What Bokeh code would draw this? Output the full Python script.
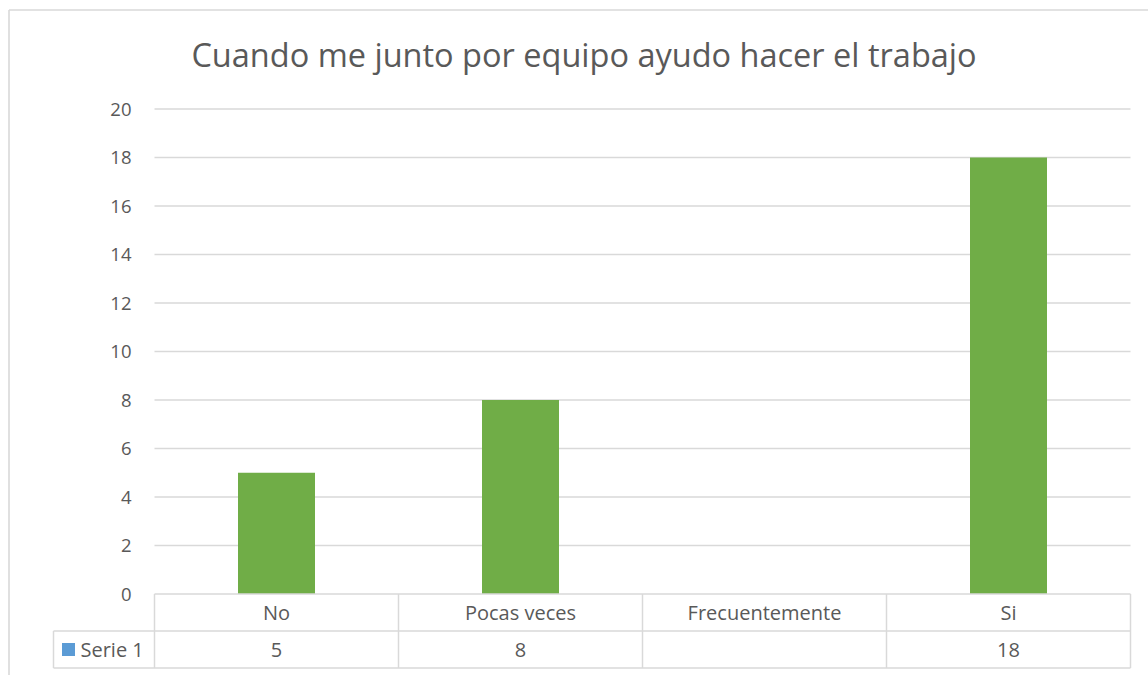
from bokeh.plotting import figure
from bokeh.models import Range1d
from bokeh.core.properties import value
from bokeh.embed import file_html
from bokeh.resources import INLINE

# ---------------- data ----------------
title_text = "Cuando me junto por equipo ayudo hacer el trabajo"
categories = ["No", "Pocas veces", "Frecuentemente", "Si"]
serie_1 = [5, 8, None, 18]
series_name = "Serie 1"
y_ticks = [0, 2, 4, 6, 8, 10, 12, 14, 16, 18, 20]

# ---------------- layout (pixels on canvas) ----------------
W, H = 1148, 675
PX_LEFT, PX_RIGHT = 154.0, 1130.0      # plot area left/right
PX_Y0, PX_YTOP = 593.5, 108.5          # canvas y of value 0 and of top tick
ROW_PX = 37.0                          # table row height
BAR_PX = 77.0
FONT = "Open Sans"
TXT = "#595959"
LINE = "#D9D9D9"

n = len(categories)
ux = (PX_RIGHT - PX_LEFT) / n
uy = (PX_Y0 - PX_YTOP) / y_ticks[-1]
x_start = -PX_LEFT / ux
x_end = (W - PX_LEFT) / ux
y_top = PX_Y0 / uy
y_bot = -(H - PX_Y0) / uy

p = figure(width=W, height=H, x_range=Range1d(x_start, x_end),
           y_range=Range1d(y_bot, y_top), min_border=0,
           x_axis_location=None, y_axis_location=None,
           toolbar_location=None, output_backend="svg",
           outline_line_color=None, background_fill_color="white",
           border_fill_color="white")
p.grid.visible = False

# chart outer border (left and top visible in the view)
bx = (8.5 - PX_LEFT) / ux
by = (PX_Y0 - 9.5) / uy
p.segment(x0=[bx, bx], y0=[y_bot, by], x1=[bx, x_end], y1=[by, by],
          line_color=LINE, line_width=1.6)

# gridlines
p.segment(x0=[0] * (len(y_ticks) - 1), x1=[n] * (len(y_ticks) - 1),
          y0=y_ticks[1:], y1=y_ticks[1:], line_color=LINE, line_width=1.4)

# bars
xs = [i + 0.5 for i, v in enumerate(serie_1) if v is not None]
tops = [v for v in serie_1 if v is not None]
p.vbar(x=xs, top=tops, width=BAR_PX / ux, bottom=0,
       fill_color="#70AD47", line_color=None)

# y tick labels
lab_x = (131.0 - PX_LEFT) / ux
p.text(x=[lab_x] * len(y_ticks), y=y_ticks, text=[str(t) for t in y_ticks],
       text_align="right", text_baseline="middle", text_color=TXT,
       text_font=value(FONT), text_font_size="18.5px")

# data table
r = ROW_PX / uy
cell_left = (53.0 - PX_LEFT) / ux
# horizontal lines
p.segment(x0=[0, cell_left, cell_left], x1=[n, n, n], y0=[0, -r, -2 * r],
          y1=[0, -r, -2 * r], line_color=LINE, line_width=1.5)
# vertical lines
vx = list(range(n + 1))
p.segment(x0=vx, x1=vx, y0=[0] * len(vx), y1=[-2 * r] * len(vx),
          line_color=LINE, line_width=1.5)
p.segment(x0=[cell_left], x1=[cell_left], y0=[-r], y1=[-2 * r],
          line_color=LINE, line_width=1.5)

cx = [i + 0.5 for i in range(n)]
p.text(x=cx, y=[-r / 2] * n, text=categories, text_align="center",
       text_baseline="middle", text_color=TXT, text_font=value(FONT),
       text_font_size="20px")
p.text(x=cx, y=[-1.5 * r] * n,
       text=["" if v is None else str(v) for v in serie_1],
       text_align="center", text_baseline="middle", text_color=TXT,
       text_font=value(FONT), text_font_size="20px")

# legend key + series name
key_x = (68.0 - PX_LEFT) / ux
p.scatter(x=[key_x], y=[-1.5 * r], marker="square", size=13,
          fill_color="#5B9BD5", line_color=None)
name_x = (80.0 - PX_LEFT) / ux
p.text(x=[name_x], y=[-1.5 * r], text=[series_name], text_align="left",
       text_baseline="middle", text_color=TXT, text_font=value(FONT),
       text_font_size="20px")

# title
title_x = (583.5 - PX_LEFT) / ux
title_y = (PX_Y0 - 54.0) / uy
p.text(x=[title_x], y=[title_y], text=[title_text], text_align="center",
       text_baseline="middle", text_color=TXT, text_font=value(FONT),
       text_font_size="32.5px")

open("out.html", "w").write(file_html(p, INLINE))
